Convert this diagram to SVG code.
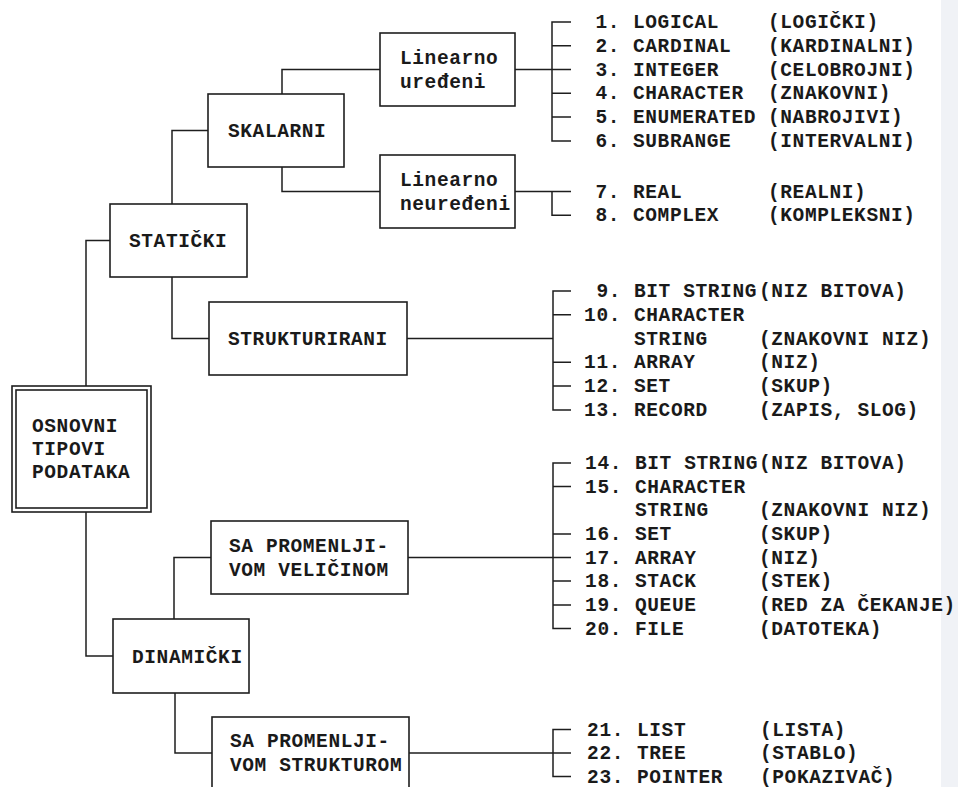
<svg xmlns="http://www.w3.org/2000/svg" width="958" height="787" viewBox="0 0 958 787">
  <style>
    .box { fill: #ffffff; stroke: #1e1e1e; stroke-width: 1.6; }
    .wire { fill: none; stroke: #1e1e1e; stroke-width: 1.5; }
    text { font-family: "Liberation Mono", "DejaVu Sans Mono", monospace; font-size: 19.5px; letter-spacing: 0.6px; font-weight: bold; fill: #1a1a1a; }
    .num { text-anchor: end; }
  </style>
  <rect x="0" y="0" width="958" height="787" fill="#ffffff"/>
  <!-- shaded page margin -->
  <rect x="941" y="0" width="17" height="787" fill="#f0f2f6"/>

  <!-- tree connectors -->
  <g id="connectors" class="wire">
    <!-- root spine -->
    <path d="M110 240.5 H86 V386"/>
    <path d="M86 512 V656 H113"/>
    <!-- STATICKI children -->
    <path d="M172 204 V130.5 H208"/>
    <path d="M172 277 V338.5 H209"/>
    <!-- SKALARNI children -->
    <path d="M282 94 V69.5 H380"/>
    <path d="M282 167 V191.5 H380"/>
    <!-- DINAMICKI children -->
    <path d="M174 619 V557.5 H211"/>
    <path d="M175 693 V753 H212"/>

    <!-- list 1-6 -->
    <path d="M515 69.5 H571"/>
    <path d="M571 21.9 H552 V140.9 H571"/>
    <path d="M552 45.7 H571 M552 93.3 H571 M552 117.1 H571"/>
    <!-- list 7-8 -->
    <path d="M515 191.5 H571"/>
    <path d="M552 191.5 V215.3 H571"/>
    <!-- list 9-13 -->
    <path d="M407 338.5 H553"/>
    <path d="M571 291 H553 V410 H571"/>
    <path d="M553 314.7 H571 M553 362.3 H571 M553 386.1 H571"/>
    <!-- list 14-20 -->
    <path d="M408 557.5 H571"/>
    <path d="M571 463 H553 V628.5 H571"/>
    <path d="M553 486.5 H571 M553 534 H571 M553 581 H571 M553 605 H571"/>
    <!-- list 21-23 -->
    <path d="M409 753 H571"/>
    <path d="M571 729.5 H553 V776.5 H571"/>
  </g>

  <!-- root node -->
  <g id="osnovni">
    <rect class="box" x="12" y="386" width="139" height="126"/>
    <rect class="box" x="16" y="390" width="131" height="118"/>
    <text x="32" y="432">OSNOVNI</text>
    <text x="32" y="455">TIPOVI</text>
    <text x="32" y="478">PODATAKA</text>
  </g>

  <g id="staticki">
    <rect class="box" x="110" y="204" width="137" height="73"/>
    <text x="129" y="247">STATIČKI</text>
  </g>

  <g id="skalarni">
    <rect class="box" x="208" y="94" width="136" height="73"/>
    <text x="228" y="137">SKALARNI</text>
  </g>

  <g id="linearno-uredjeni">
    <rect class="box" x="380" y="33" width="135" height="73"/>
    <text x="400" y="63.5">Linearno</text>
    <text x="400" y="87.5">uređeni</text>
  </g>

  <g id="linearno-neuredjeni">
    <rect class="box" x="380" y="155" width="135" height="73"/>
    <text x="400" y="185.5">Linearno</text>
    <text x="400" y="209.5">neuređeni</text>
  </g>

  <g id="strukturirani">
    <rect class="box" x="209" y="302" width="198" height="73"/>
    <text x="228" y="345">STRUKTURIRANI</text>
  </g>

  <g id="dinamicki">
    <rect class="box" x="113" y="619" width="136" height="74"/>
    <text x="132" y="662.5">DINAMIČKI</text>
  </g>

  <g id="promenljiva-velicina">
    <rect class="box" x="211" y="521" width="197" height="73"/>
    <text x="229" y="552">SA PROMENLJI-</text>
    <text x="229" y="576">VOM VELIČINOM</text>
  </g>

  <g id="promenljiva-struktura">
    <rect class="box" x="212" y="717" width="197" height="75"/>
    <text x="230" y="747">SA PROMENLJI-</text>
    <text x="230" y="771">VOM STRUKTUROM</text>
  </g>

  <!-- ordered scalar types -->
  <g id="list-ordered">
    <text class="num" x="620" y="28">1.</text><text x="633" y="28">LOGICAL</text><text x="768" y="28">(LOGIČKI)</text>
    <text class="num" x="620" y="51.7">2.</text><text x="633" y="51.7">CARDINAL</text><text x="768" y="51.7">(KARDINALNI)</text>
    <text class="num" x="620" y="75.5">3.</text><text x="633" y="75.5">INTEGER</text><text x="768" y="75.5">(CELOBROJNI)</text>
    <text class="num" x="620" y="99.3">4.</text><text x="633" y="99.3">CHARACTER</text><text x="768" y="99.3">(ZNAKOVNI)</text>
    <text class="num" x="620" y="123.1">5.</text><text x="633" y="123.1">ENUMERATED</text><text x="768" y="123.1">(NABROJIVI)</text>
    <text class="num" x="620" y="146.9">6.</text><text x="633" y="146.9">SUBRANGE</text><text x="768" y="146.9">(INTERVALNI)</text>
  </g>

  <!-- unordered scalar types -->
  <g id="list-unordered">
    <text class="num" x="620" y="197.5">7.</text><text x="633" y="197.5">REAL</text><text x="768" y="197.5">(REALNI)</text>
    <text class="num" x="620" y="221.3">8.</text><text x="633" y="221.3">COMPLEX</text><text x="768" y="221.3">(KOMPLEKSNI)</text>
  </g>

  <!-- structured static types -->
  <g id="list-structured">
    <text class="num" x="621" y="297">9.</text><text x="634" y="297">BIT STRING</text><text x="759" y="297">(NIZ BITOVA)</text>
    <text class="num" x="621" y="320.7">10.</text><text x="634" y="320.7">CHARACTER</text>
    <text x="634" y="344.5">STRING</text><text x="759" y="344.5">(ZNAKOVNI NIZ)</text>
    <text class="num" x="621" y="368.3">11.</text><text x="634" y="368.3">ARRAY</text><text x="759" y="368.3">(NIZ)</text>
    <text class="num" x="621" y="392.1">12.</text><text x="634" y="392.1">SET</text><text x="759" y="392.1">(SKUP)</text>
    <text class="num" x="621" y="415.9">13.</text><text x="634" y="415.9">RECORD</text><text x="759" y="415.9">(ZAPIS, SLOG)</text>
  </g>

  <!-- variable-size dynamic types -->
  <g id="list-variable-size">
    <text class="num" x="622" y="469">14.</text><text x="635" y="469">BIT STRING</text><text x="759" y="469">(NIZ BITOVA)</text>
    <text class="num" x="622" y="492.5">15.</text><text x="635" y="492.5">CHARACTER</text>
    <text x="635" y="516">STRING</text><text x="759" y="516">(ZNAKOVNI NIZ)</text>
    <text class="num" x="622" y="540">16.</text><text x="635" y="540">SET</text><text x="759" y="540">(SKUP)</text>
    <text class="num" x="622" y="563.5">17.</text><text x="635" y="563.5">ARRAY</text><text x="759" y="563.5">(NIZ)</text>
    <text class="num" x="622" y="587">18.</text><text x="635" y="587">STACK</text><text x="759" y="587">(STEK)</text>
    <text class="num" x="622" y="611">19.</text><text x="635" y="611">QUEUE</text><text x="759" y="611">(RED ZA ČEKANJE)</text>
    <text class="num" x="622" y="634.5">20.</text><text x="635" y="634.5">FILE</text><text x="759" y="634.5">(DATOTEKA)</text>
  </g>

  <!-- variable-structure dynamic types -->
  <g id="list-variable-structure">
    <text class="num" x="624" y="735.5">21.</text><text x="637" y="735.5">LIST</text><text x="760" y="735.5">(LISTA)</text>
    <text class="num" x="624" y="759">22.</text><text x="637" y="759">TREE</text><text x="760" y="759">(STABLO)</text>
    <text class="num" x="624" y="782.5">23.</text><text x="637" y="782.5">POINTER</text><text x="760" y="782.5">(POKAZIVAČ)</text>
  </g>
</svg>
